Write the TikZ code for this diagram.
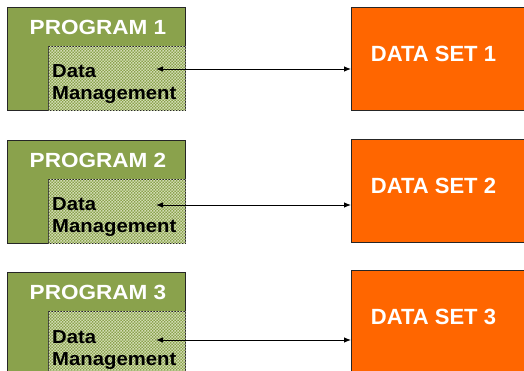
\documentclass[tikz,border=0pt]{standalone}
\usepackage{fontspec}
\setmainfont{Liberation Sans}
\usetikzlibrary{patterns,arrows.meta}
\definecolor{olive}{HTML}{8AA24C}
\definecolor{lightolive}{HTML}{D2DCB4}
\definecolor{dsorange}{HTML}{FF6600}
\pgfdeclarepatternformonly{checks}{\pgfpointorigin}{\pgfpoint{3.4pt}{3.4pt}}{\pgfpoint{3.4pt}{3.4pt}}{%
  \pgfpathrectangle{\pgfpointorigin}{\pgfpoint{1.7pt}{1.7pt}}%
  \pgfpathrectangle{\pgfpoint{1.7pt}{1.7pt}}{\pgfpoint{1.7pt}{1.7pt}}%
  \pgfusepath{fill}}
\tikzset{
  progbox/.style={draw=black!85, line width=1pt, fill=olive},
  dmbox/.style={draw=black!85, line width=1pt, fill=olive, postaction={pattern=checks, pattern color=lightolive}},
  dsbox/.style={draw=black!85, line width=1pt, fill=dsorange},
  progtext/.style={text=white, font=\bfseries\fontsize{20.5}{22}\selectfont, inner sep=0pt},
  dstext/.style={text=white, font=\bfseries\fontsize{22}{24}\selectfont, inner sep=0pt},
  dmtext/.style={text=black, font=\bfseries\fontsize{18.8}{22}\selectfont, inner sep=0pt, anchor=base west},
  link/.style={line width=0.9pt, {Latex[length=7pt,width=5.5pt]}-{Latex[length=7pt,width=5.5pt]}}
}
\begin{document}
\begin{tikzpicture}[x=1pt,y=-1pt]
\useasboundingbox (0,0) rectangle (524,371);
\clip (0,0) rectangle (524,371);
\foreach \i/\py/\dy/\ay in {1/7/7/69, 2/140/139/205, 3/272/270/340}{
  \node[progbox, minimum width=178pt, minimum height=103pt, inner sep=0pt, anchor=north west] (p\i) at (7,\py) {};
  \node[dmbox, minimum width=137pt, minimum height=64pt, inner sep=0pt, anchor=north west] (m\i) at (48,\py+39) {};
  \node[progtext] (pt\i) at (98,\py+20.5) {\scalebox{1.1}[1]{PROGRAM \i}};
  \node[dmtext] (d\i) at (52,\py+71) {\scalebox{1.08}[1]{Data}};
  \node[dmtext] (g\i) at (52,\py+93) {\scalebox{1.08}[1]{Management}};
  \node[dsbox, minimum width=180pt, minimum height=103pt, inner sep=0pt, anchor=north west] (s\i) at (351,\dy) {};
  \node[dstext] (st\i) at (433.5,\dy+46.5) {DATA SET \i};
  \coordinate (a\i) at (156,\ay);
  \draw[link] (a\i) -- (s\i.west |- a\i);
}
\end{tikzpicture}
\end{document}
